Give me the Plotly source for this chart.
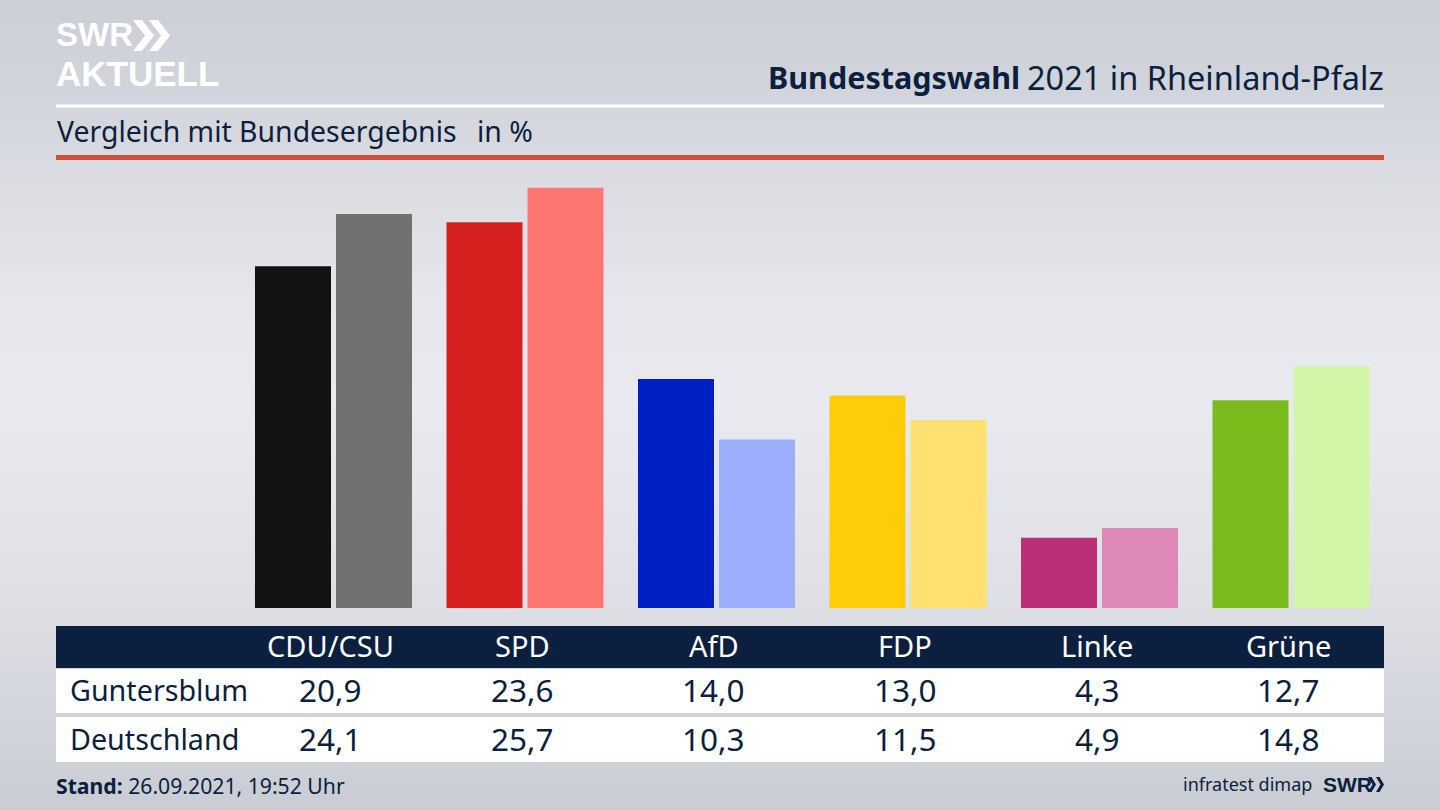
import plotly.graph_objects as go

parties = ['CDU/CSU', 'SPD', 'AfD', 'FDP', 'Linke', 'Grüne']
guntersblum = [20.9, 23.6, 14.0, 13.0, 4.3, 12.7]
deutschland = [24.1, 25.7, 10.3, 11.5, 4.9, 14.8]
farben_gunt = ['#121212', '#d61f1f', '#0020c4', '#ffcc0a', '#bb2f76', '#79bc1c']
farben_de = ['#72716f', '#ff7570', '#9dadff', '#ffe070', '#de88b8', '#d3f5a8']
gunt_text = ['20,9', '23,6', '14,0', '13,0', '4,3', '12,7']
de_text = ['24,1', '25,7', '10,3', '11,5', '4,9', '14,8']

# Hintergrund: senkrechter Verlauf, Helligkeit von oben nach unten
bg_y = [0, 100, 200, 300, 400, 500, 600, 700, 810]
bg_z = [[0.1], [0.3], [0.6], [0.9], [1.0], [0.85], [0.65], [0.35], [0.0]]

NAVY = '#0b1f3f'
FONT = 'Noto Sans'
LOGO = 'Liberation Sans'
W, H = 1440, 810
PX_PRO_PROZENT = 16.35
BASIS = 608
ABSTAND = 191.5
MITTE0 = 333.5
TABELLE0 = 330.7


def px(x):
    return x / W


def py(y):
    return 1 - y / H


def text(x, y, s, size, color=NAVY, anchor='center', family=FONT):
    return dict(x=px(x), y=py(y), xref='paper', yref='paper', text=s, showarrow=False,
                xanchor=anchor, yanchor='middle', font=dict(family=family, size=size, color=color))


def rect(x0, y0, x1, y1, color):
    return dict(type='rect', xref='paper', yref='paper', x0=px(x0), x1=px(x1), y0=py(y0), y1=py(y1),
                fillcolor=color, line=dict(width=0), layer='above')


def chevron(x, y, w, h, dicke, color):
    # Doppelpfeil vom SWR-Logo
    p = f'M {px(x)} {py(y)} L {px(x + dicke)} {py(y)} L {px(x + dicke + w)} {py(y + h / 2)} ' \
        f'L {px(x + dicke)} {py(y + h)} L {px(x)} {py(y + h)} L {px(x + w)} {py(y + h / 2)} Z'
    return dict(type='path', xref='paper', yref='paper', path=p, fillcolor=color,
                line=dict(width=0), layer='above')


fig = go.Figure()

fig.add_trace(go.Heatmap(
    x=[0, W], y=bg_y, z=[row * 2 for row in bg_z], zmin=0, zmax=1, zsmooth='best',
    colorscale=[[0, '#c9ccd3'], [1, '#e9eaef']],
    showscale=False, hoverinfo='skip', xaxis='x', yaxis='y',
))

fig.add_trace(go.Bar(x=parties, y=guntersblum, marker=dict(color=farben_gunt, line=dict(width=0)),
                     name='Guntersblum', showlegend=False, xaxis='x2', yaxis='y2'))
fig.add_trace(go.Bar(x=parties, y=deutschland, marker=dict(color=farben_de, line=dict(width=0)),
                     name='Deutschland', showlegend=False, xaxis='x2', yaxis='y2'))

shapes = [
    rect(56, 104.5, 1384, 107.5, '#ffffff'),
    rect(56, 155, 1384, 160, '#c8503c'),
    rect(56, 626, 1384, 668, NAVY),
    rect(56, 669, 1384, 713, '#ffffff'),
    rect(56, 717, 1384, 762, '#ffffff'),
    chevron(133, 20, 12, 31, 9, '#ffffff'),
    chevron(149, 20, 12, 31, 9, '#ffffff'),
    chevron(1368, 777, 4.5, 15, 3.5, NAVY),
    chevron(1376, 777, 4.5, 15, 3.5, NAVY),
]

annotations = [
    text(54, 34.5, '<b>SWR</b>', 33, '#ffffff', 'left', LOGO),
    text(54, 73.5, '<b>AKTUELL</b>', 35, '#ffffff', 'left', LOGO),
    text(1022, 77, '<b>Bundestagswahl</b>', 30.5, NAVY, 'right'),
    text(1386, 77, '2021 in Rheinland-Pfalz', 32.5, NAVY, 'right'),
    text(55, 131.5, 'Vergleich mit Bundesergebnis', 28.4, NAVY, 'left'),
    text(475, 131.5, 'in %', 28.4, NAVY, 'left'),
    text(68, 689, 'Guntersblum', 28.7, NAVY, 'left'),
    text(68, 738, 'Deutschland', 28.7, NAVY, 'left'),
    text(54, 785, '<b>Stand:</b> 26.09.2021, 19:52 Uhr', 21.2, NAVY, 'left'),
    text(1313.5, 784, 'infratest dimap', 18, NAVY, 'right'),
    text(1320.5, 784, '<b>SWR</b>', 21, NAVY, 'left', LOGO),
]
for i, name in enumerate(parties):
    mitte = TABELLE0 + i * ABSTAND
    annotations.append(text(mitte, 645, name, 29, '#ffffff'))
    annotations.append(text(mitte, 689, gunt_text[i], 31.5))
    annotations.append(text(mitte, 738, de_text[i], 31.5))

fig.update_layout(
    width=W, height=H,
    autosize=False,
    margin=dict(l=0, r=0, t=0, b=0),
    paper_bgcolor='#e0e2e8',
    plot_bgcolor='rgba(0,0,0,0)',
    barmode='group',
    bargap=0.154,
    bargroupgap=0.0617,
    showlegend=False,
    shapes=shapes,
    annotations=annotations,
    xaxis=dict(domain=[0, 1], range=[0, W], visible=False),
    yaxis=dict(domain=[0, 1], range=[H, 0], visible=False),
    xaxis2=dict(domain=[0, 1], type='category', categoryorder='array', categoryarray=parties,
                range=[-MITTE0 / ABSTAND, (W - MITTE0) / ABSTAND], visible=False,
                overlaying='x', anchor='y2'),
    yaxis2=dict(domain=[0, 1], range=[-(H - BASIS) / PX_PRO_PROZENT, BASIS / PX_PRO_PROZENT], visible=False,
                overlaying='y', anchor='x2'),
)

fig.write_html("out.html", config={'displayModeBar': False},
               post_script="document.body.style.margin='0';")
